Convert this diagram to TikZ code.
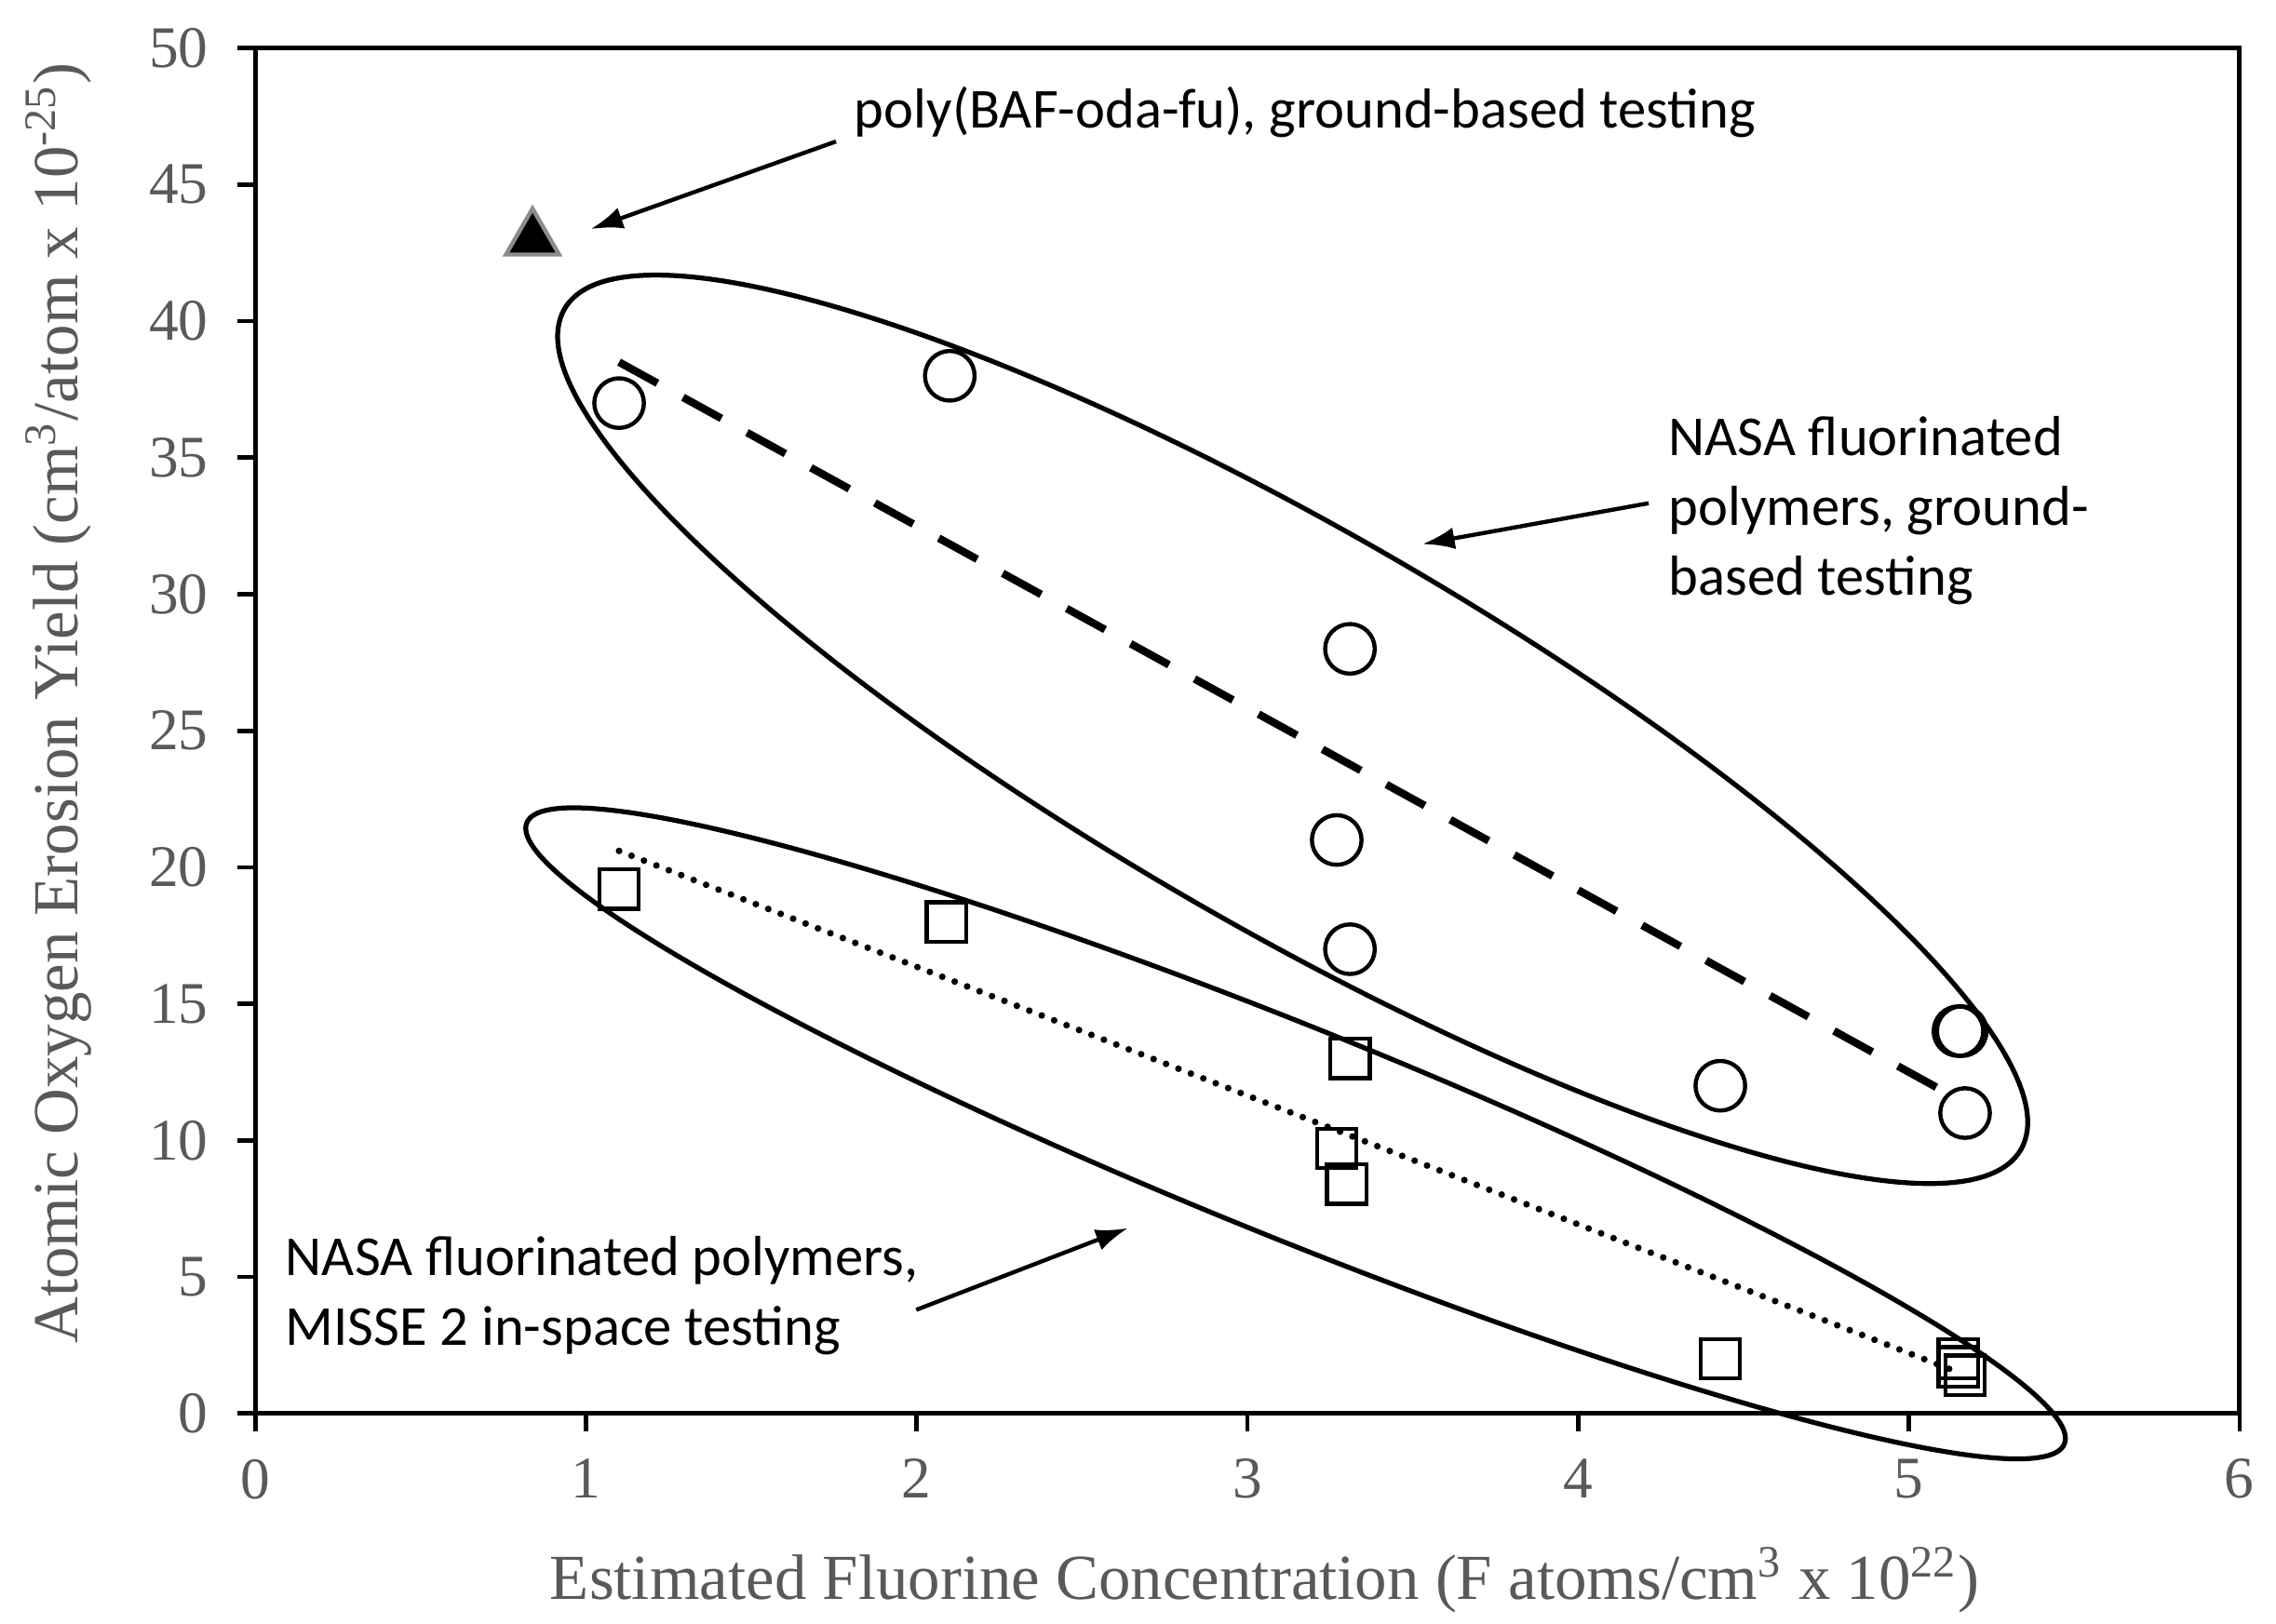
\documentclass[tikz,border=0pt]{standalone}
\usepackage{fontspec}
\usetikzlibrary{arrows.meta,shapes.geometric}
\setmainfont{Liberation Serif}
\newfontfamily\carlfont{Carlito}
\begin{document}
\begin{tikzpicture}[x=0.01cm,y=-0.01cm,
  frame/.style={line width=0.85pt},
  mk/.style={draw,line width=0.8pt,inner sep=0pt},
  circ/.style={mk,circle,minimum size=0.34cm},
  sq/.style={mk,rectangle,minimum size=0.27cm},
  ell/.style={line width=0.95pt},
  arr/.style={line width=0.8pt,-{Latex[length=0.22cm,width=0.15cm]}},
  tick/.style={font=\fontsize{11.5}{13}\selectfont,text=black!65},
  title/.style={font=\fontsize{12.5}{14}\selectfont,text=black!65},
  lab/.style={font=\carlfont\fontsize{11}{13.6}\selectfont,align=left,inner sep=0pt}]
\useasboundingbox (0,0) rectangle (1560,1113);
\def\X#1{175+226.667*(#1)}
\def\Y#1{969-18.72*(#1)}
% frame
\draw[frame] (175,33) rectangle (1535,969);
\foreach \i in {0,...,6}{
  \draw[frame] ({\X{\i}},969) -- ({\X{\i}},981);
  \node[tick,anchor=north] (xt\i) at ({\X{\i}},988) {\i};}
\foreach \v in {0,5,...,50}{
  \draw[frame] (163,{\Y{\v}}) -- (175,{\Y{\v}});
  \node[tick,anchor=east] (yt\v) at (155,{\Y{\v}}) {\v};}
\node[title] (xtitle) at (867,1083) {Estimated Fluorine Concentration (F atoms/cm\textsuperscript{3} x 10\textsuperscript{22})};
\node[title,rotate=90] (ytitle) at (40,482) {Atomic Oxygen Erosion Yield (cm\textsuperscript{3}/atom x 10\textsuperscript{-25})};
% ellipses
\coordinate (c1) at (886,500);
\coordinate (c2) at (888,777);
\draw[ell,rotate around={-30:(c1)}] (c1) ellipse [x radius=5.76cm,y radius=1.36cm];
\draw[ell,rotate around={-22:(c2)}] (c2) ellipse [x radius=5.68cm,y radius=0.72cm];
% fit lines
\coordinate (d1) at ({\X{1.1}},{\Y{38.5}});
\coordinate (d2) at ({\X{5.15}},{\Y{11.5}});
\draw[line width=1.5pt,dash pattern=on 0.3cm off 0.2cm] (d1) -- (d2);
\coordinate (e1) at ({\X{1.1}},{\Y{20.6}});
\coordinate (e2) at ({\X{5.15}},{\Y{1.5}});
\draw[line width=1.3pt,line cap=round,dash pattern=on 0pt off 2.6pt] (e1) -- (e2);
% circles
\foreach \n/\a/\b in {1/1.1/37,2/2.1/38,3/3.31/28,4/3.27/21,5/3.31/17,6/4.43/12,7/5.15/14,8/5.16/14,9/5.17/11}
  \node[circ] (o\n) at ({\X{\a}},{\Y{\b}}) {};
% squares
\foreach \n/\a/\b in {1/1.1/19.2,2/2.09/18,3/3.31/13,4/3.27/9.7,5/3.3/8.4,6/4.43/2,7/5.15/2.0,8/5.15/1.7,9/5.17/1.4}
  \node[sq] (s\n) at ({\X{\a}},{\Y{\b}}) {};
% triangle
\node[draw=black!45,fill=black,line width=0.8pt,regular polygon,regular polygon sides=3,minimum size=0.42cm,inner sep=0pt] (tri) at (365,164) {};
% labels
\node[lab,anchor=west] (l1) at (585,77) {poly(BAF-oda-fu), ground-based testing};
\node[lab,anchor=north west] (l2) at (1143,285) {NASA fluorinated\\polymers, ground-\\based testing};
\node[lab,anchor=north west] (l3) at (195,847) {NASA fluorinated polymers,\\MISSE 2 in-space testing};
\coordinate (a1) at (573,97); \coordinate (b1) at (405,157);
\coordinate (a2) at (1130,345); \coordinate (b2) at (975,373);
\coordinate (a3) at (628,898); \coordinate (b3) at (773,842);
\draw[arr] (a1) -- (b1);
\draw[arr] (a2) -- (b2);
\draw[arr] (a3) -- (b3);
\end{tikzpicture}
\end{document}
